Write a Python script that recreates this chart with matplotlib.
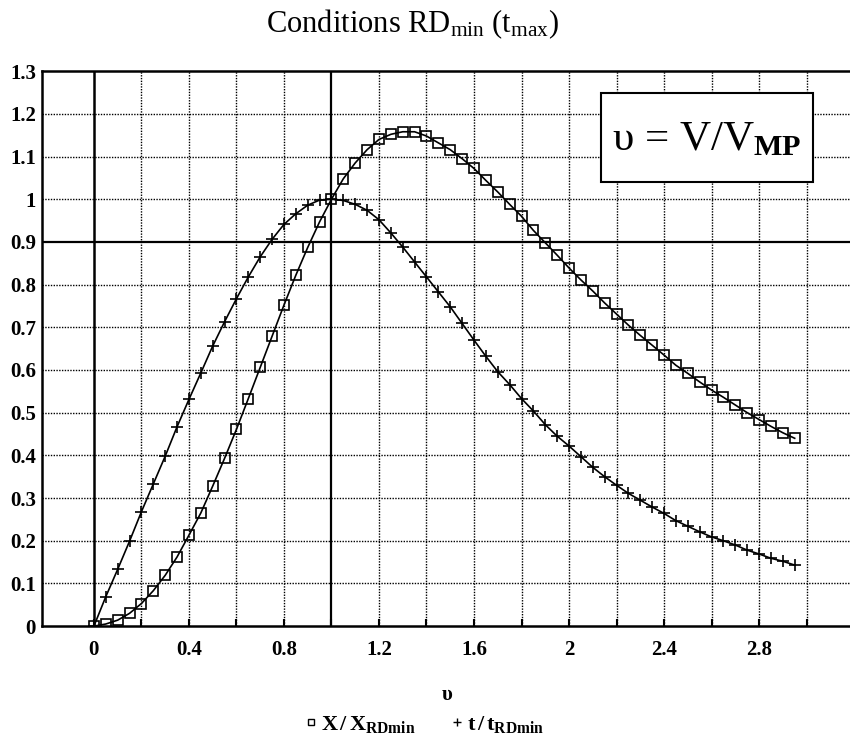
import matplotlib.pyplot as plt
from matplotlib.lines import Line2D
from matplotlib.patches import Rectangle

plt.rcParams['font.family'] = ['Liberation Serif', 'DejaVu Serif']
plt.rcParams['mathtext.fontset'] = 'custom'
plt.rcParams['mathtext.rm'] = 'Liberation Serif'
plt.rcParams['mathtext.it'] = 'Liberation Serif'
plt.rcParams['mathtext.bf'] = 'Liberation Serif:bold'

# u = V / V_MP, step 0.05
u = [i * 0.05 for i in range(60)]

# X / X_RDmin (squares)
x_ratio = [0.0, 0.005, 0.014, 0.030, 0.053, 0.083, 0.119, 0.162, 0.213, 0.265,
           0.328, 0.393, 0.461, 0.533, 0.606, 0.679, 0.752, 0.822, 0.887, 0.947,
           1.000, 1.048, 1.085, 1.116, 1.140, 1.152, 1.158, 1.158, 1.148, 1.132,
           1.116, 1.095, 1.072, 1.044, 1.017, 0.988, 0.960, 0.927, 0.898, 0.869,
           0.839, 0.811, 0.785, 0.757, 0.731, 0.705, 0.681, 0.658, 0.635, 0.611,
           0.592, 0.572, 0.553, 0.536, 0.518, 0.500, 0.484, 0.468, 0.453, 0.440]

# t / t_RDmin (plus)
t_ratio = [0.0, 0.069, 0.133, 0.199, 0.268, 0.333, 0.398, 0.467, 0.531, 0.593,
           0.656, 0.713, 0.767, 0.818, 0.865, 0.906, 0.941, 0.966, 0.986, 0.998,
           1.000, 0.997, 0.988, 0.974, 0.952, 0.921, 0.888, 0.853, 0.818, 0.783,
           0.748, 0.709, 0.670, 0.632, 0.596, 0.566, 0.533, 0.504, 0.472, 0.445,
           0.422, 0.397, 0.372, 0.350, 0.330, 0.311, 0.295, 0.279, 0.264, 0.247,
           0.234, 0.221, 0.209, 0.200, 0.190, 0.178, 0.169, 0.159, 0.152, 0.143]

x_ticks = [0, 0.4, 0.8, 1.2, 1.6, 2, 2.4, 2.8]
x_tick_labels = ['0', '0.4', '0.8', '1.2', '1.6', '2', '2.4', '2.8']
y_ticks = [0, 0.1, 0.2, 0.3, 0.4, 0.5, 0.6, 0.7, 0.8, 0.9, 1, 1.1, 1.2, 1.3]
y_tick_labels = ['0', '0.1', '0.2', '0.3', '0.4', '0.5', '0.6', '0.7', '0.8',
                 '0.9', '1', '1.1', '1.2', '1.3']

fig = plt.figure(figsize=(8.5, 7.41), dpi=100)
ax = fig.add_axes([0.049, 0.155, 0.953, 0.749])
ax.set_xlim(-0.22, 3.19)
ax.set_ylim(0, 1.3)

# dotted grid every 0.2 / 0.1
for gx in [0.2 * i for i in range(1, 17)]:
    if abs(gx - 1.0) > 1e-6:
        ax.axvline(gx, color='black', lw=1.0, ls=(0, (1, 1)), zorder=1)
for gy in [0.1 * i for i in range(1, 13)]:
    if abs(gy - 0.9) > 1e-6:
        ax.axhline(gy, color='black', lw=1.0, ls=(0, (1, 1)), zorder=1)
# solid reference lines
ax.axvline(0, color='black', lw=1.8, zorder=1)
ax.axvline(1.0, color='black', lw=1.6, zorder=1)
ax.axhline(0.9, color='black', lw=1.6, zorder=1)

ax.plot(u, x_ratio, color='black', lw=1.2, marker='s', markersize=7,
        markerfacecolor='none', markeredgecolor='black', markeredgewidth=1.2,
        zorder=3)
ax.plot(u, t_ratio, color='black', lw=1.2, marker='+', markersize=8,
        markeredgewidth=1.2, zorder=3)

ax.set_xticks([0.2 * i for i in range(0, 16)], minor=True)
ax.set_xticks(x_ticks)
ax.set_xticklabels(x_tick_labels, fontsize=15, fontweight='bold')
ax.set_yticks(y_ticks)
ax.set_yticklabels(y_tick_labels, fontsize=15, fontweight='bold')
ax.tick_params(axis='x', which='both', direction='in', length=5, width=1.5, pad=10)
ax.tick_params(axis='y', length=0, pad=4)
for s in ax.spines.values():
    s.set_linewidth(1.8)

ax.set_xlabel('υ', fontsize=15, fontweight='bold', labelpad=18)

fig.text(0.485, 0.967, r'Conditions RD$_{\mathregular{min}}$ (t$_{\mathregular{max}}$)',
         ha='center', va='center', fontsize=22)

# annotation box
ax.add_patch(Rectangle((0.691, 0.800), 0.261, 0.160, transform=ax.transAxes,
                       facecolor='white', edgecolor='black', lw=1.5, zorder=5))
ax.text(0.821, 0.876, r'υ = V/V$_{\mathbf{MP}}$', transform=ax.transAxes,
        ha='center', va='center', fontsize=31, zorder=6)

handles = [
    Line2D([], [], ls='none', marker='s', markersize=5, markerfacecolor='none',
           markeredgecolor='black', markeredgewidth=1.0),
    Line2D([], [], ls='none', marker='+', markersize=6, color='black',
           markeredgewidth=1.0),
]
labels = [r'$\mathbf{X\,/\,X_{RDmin}}$', r'$\mathbf{t\,/\,t_{RDmin}}$']
fig.legend(handles, labels, loc='center', bbox_to_anchor=(0.5, 0.022), ncol=2,
           frameon=False, fontsize=16, handlelength=0.5, handletextpad=0.2,
           columnspacing=1.6)

fig.savefig('out.png', dpi=100)
